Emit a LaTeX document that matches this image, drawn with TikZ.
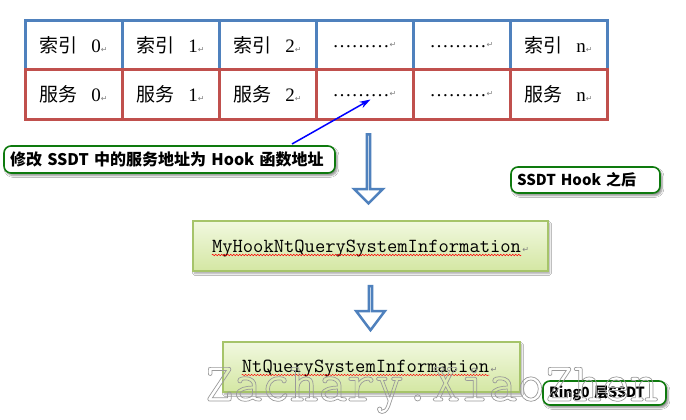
\documentclass[tikz,border=0pt]{standalone}
\usepackage{fontspec}
\setmainfont{Liberation Serif}
\newfontfamily\cjkfont{Noto Sans CJK SC}
\newfontfamily\codefont{Latin Modern Mono}
\newfontfamily\symfont{DejaVu Sans}
\usepackage{tikz}
\usetikzlibrary{shadows.blur,positioning,arrows.meta,calc,shapes.arrows,decorations.pathmorphing}
\definecolor{idxblue}{HTML}{4F81BD}
\definecolor{svcred}{HTML}{C0504D}
\definecolor{notegreen}{HTML}{0E7A0E}
\definecolor{boxedge}{HTML}{A6C46A}
\definecolor{boxtop}{HTML}{F1F8DF}
\definecolor{boxbottom}{HTML}{D4E7A3}
\definecolor{wmgray}{HTML}{9A9A9A}

\newcommand\retmark{{\symfont\fontsize{8}{8}\selectfont\color{gray}↵}}
\newcommand\tcell[2]{{\cjkfont #1}\hspace{14pt}#2\retmark}

\tikzset{
  cell/.style={minimum width=97pt, minimum height=49pt, line width=3pt, outer sep=0pt,
    inner sep=0pt, fill=white, font=\fontsize{19}{19}\selectfont},
  idxcell/.style={cell, draw=idxblue},
  svccell/.style={cell, draw=svcred},
  note/.style={draw=notegreen, line width=1.6pt, rounded corners=7pt, fill=white,
    align=left, inner xsep=6pt, inner ysep=0pt,
    font=\cjkfont\bfseries\fontsize{15}{15}\selectfont,
    blur shadow={shadow blur steps=6, shadow xshift=2pt, shadow yshift=-2.5pt, shadow opacity=45}},
  funcbox/.style={draw=boxedge, line width=1.5pt, top color=boxtop, bottom color=boxbottom,
    minimum height=50pt,
    blur shadow={shadow blur steps=6, shadow xshift=1.5pt, shadow yshift=-2.5pt, shadow opacity=35}},
  functext/.style={inner sep=0pt, font=\codefont\fontsize{20}{20}\selectfont},
  spell/.style={draw=red, line width=0.5pt, decorate,
    decoration={snake, amplitude=0.7pt, segment length=3pt}},
  flowarrow/.style={single arrow, draw=idxblue, line width=2.5pt, fill=white,
    shape border rotate=270, minimum width=28.5pt, single arrow head extend=9pt, inner sep=0pt},
  pointer/.style={blue, line width=1.5pt, -{Stealth[length=11pt, width=7pt]}},
  watermark/.style={inner sep=0pt, text=wmgray, font=\codefont\fontsize{55}{55}\selectfont},
}

\begin{document}
\begin{tikzpicture}[x=1pt, y=-1pt]
  \useasboundingbox[fill=white] (0,0) rectangle (686,420);

  % SSDT: index row and service row
  \node[idxcell] (i0) at (73.5,45.5) {\tcell{索引}{0}};
  \node[idxcell, right=0pt of i0] (i1) {\tcell{索引}{1}};
  \node[idxcell, right=0pt of i1] (i2) {\tcell{索引}{2}};
  \node[idxcell, right=0pt of i2] (i3) {………\retmark};
  \node[idxcell, right=0pt of i3] (i4) {………\retmark};
  \node[idxcell, right=0pt of i4] (i5) {\tcell{索引}{n}};

  \node[svccell, below=0pt of i0] (s0) {\tcell{服务}{0}};
  \node[svccell, right=0pt of s0] (s1) {\tcell{服务}{1}};
  \node[svccell, right=0pt of s1] (s2) {\tcell{服务}{2}};
  \node[svccell, right=0pt of s2] (s3) {………\retmark};
  \node[svccell, right=0pt of s3] (s4) {………\retmark};
  \node[svccell, right=0pt of s4] (s5) {\tcell{服务}{n}};

  % notes
  \node[note, text width=319pt, minimum height=27pt, font=\cjkfont\bfseries\fontsize{16}{16}\selectfont]
    (modnote) at (169.5,159.5) {修改 SSDT 中的服务地址为 Hook 函数地址};
  \node[note, text width=137pt, minimum height=26pt] (afternote) at (585.5,180)
    {SSDT Hook 之后};
  \node[note, text width=111pt, minimum height=24pt, font=\cjkfont\bfseries\fontsize{14}{14}\selectfont]
    (ringnote) at (604.5,393) {Ring0 层SSDT};

  \coordinate (ptrtail) at (292,144);
  \draw[pointer] (ptrtail) -- ($(s3.center)+(6,5)$);

  % hooked function
  \node[funcbox, minimum width=355pt] (hook) at (370.5,246) {};
  \node[functext, anchor=base] (hooktxt) at (366.5,252) {MyHookNtQuerySystemInformation};
  \node[anchor=base west, inner sep=0pt, xshift=1pt] (hookret) at (hooktxt.base east) {\retmark};
  \draw[spell] ($(hooktxt.base west)+(0,3)$) -- ($(hooktxt.base east)+(0,3)$);

  % original function
  \node[funcbox, minimum width=297pt] (orig) at (371.5,367) {};
  \node[functext, anchor=base] (origtxt) at (365.5,372) {NtQuerySystemInformation};
  \node[anchor=base west, inner sep=0pt, xshift=1pt] (origret) at (origtxt.base east) {\retmark};
  \draw[spell] ($(origtxt.base west)+(0,3)$) -- ($(origtxt.base east)+(0,3)$);

  % flow arrows
  \node[flowarrow, minimum height=69pt] (down1) at (368.5,168) {};
  \node[flowarrow, minimum height=44pt, single arrow tip angle=74] (down2) at (370.5,307) {};

  \node[watermark, anchor=base west] (wm) at (205,401)
    {\special{pdf:literal direct 1 Tr 0.7 w}Zachary.XiaoZhen\special{pdf:literal direct 0 Tr}};
\end{tikzpicture}
\end{document}
